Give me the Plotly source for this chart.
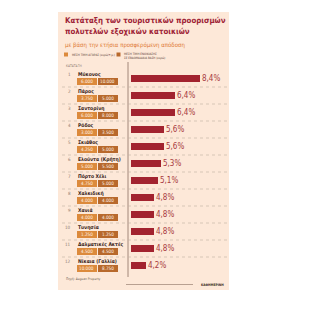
import plotly.graph_objects as go

W, H = 317, 325

ranks = list(range(1, 13))
names = ["Μύκονος", "Πάρος", "Σαντορίνη", "Ρόδος", "Σκιάθος", "Ελούντα (Κρήτη)",
         "Πόρτο Χέλι", "Χαλκιδική", "Χανιά", "Τυνησία", "Δαλματικές Ακτές", "Νίκαια (Γαλλία)"]
buy_price = ["6.000", "3.750", "6.000", "3.000", "4.250", "5.000",
             "4.750", "4.000", "4.000", "1.250", "4.500", "10.000"]
rent_week = ["10.000", "5.000", "8.000", "3.500", "5.000", "5.500",
             "5.000", "4.000", "4.000", "1.250", "4.500", "8.750"]
yield_pct = [8.4, 6.4, 6.4, 5.6, 5.6, 5.3, 5.1, 4.8, 4.8, 4.8, 4.8, 4.2]

title1 = "Κατάταξη των τουριστικών προορισμών"
title2 = "πολυτελών εξοχικών κατοικιών"
subtitle = "με βάση την ετήσια προσφερόμενη απόδοση"
legend_buy = "ΜΕΣΗ ΤΙΜΗ ΑΓΟΡΑΣ (ευρώ/τ.μ.)"
legend_rent = "ΜΕΣΗ ΤΙΜΗ ΕΝΟΙΚΙΑΣΗΣ<br>ΣΕ ΕΒΔΟΜΑΔΙΑΙΑ ΒΑΣΗ (ευρώ)"
bar_label = "ΜΕΣΗ ΜΙΚΤΗ ΑΠΟΔΟΣΗ"
rank_label = "ΚΑΤΑΤΑΞΗ"
source = "Πηγή: Aegean Property"
credit = "ΚΑΘΗΜΕΡΙΝΗ"

FONT = "DejaVu Sans Condensed, Roboto, sans-serif"
PEACH = "#fde8d8"
RED = "#a2232f"
TITLE_RED = "#9e2236"
ORANGE = "#dc8a3c"
BROWN = "#b8692c"
SUB = "#e07a36"

def px(x):
    return x / W

def py(y):
    return 1 - y / H

box_off = 0.2
name_off = -0.25

fig = go.Figure()

fig.add_trace(go.Bar(
    y=ranks, x=yield_pct, orientation="h", xaxis="x", yaxis="y",
    marker=dict(color=RED, line=dict(width=0)), width=0.42,
    text=[bar_label] + [""] * (len(ranks) - 1), textposition="inside",
    insidetextanchor="start", textfont=dict(color="white", size=3.6, family=FONT),
    showlegend=False, hoverinfo="skip", cliponaxis=False,
))

fig.add_trace(go.Bar(
    y=[r + box_off for r in ranks], x=[0.96] * len(ranks), base=[0] * len(ranks),
    orientation="h", xaxis="x2", yaxis="y",
    marker=dict(color=ORANGE, line=dict(width=0)), width=0.42,
    showlegend=False, hoverinfo="skip",
))
fig.add_trace(go.Bar(
    y=[r + box_off for r in ranks], x=[1] * len(ranks), base=[1] * len(ranks),
    orientation="h", xaxis="x2", yaxis="y",
    marker=dict(color=BROWN, line=dict(width=0)), width=0.42,
    showlegend=False, hoverinfo="skip",
))

ann = []
for r, n, b, rw, v in zip(ranks, names, buy_price, rent_week, yield_pct):
    ann.append(dict(x=px(73), y=r + name_off, xref="paper", yref="y", text=str(r),
                    xanchor="right", yanchor="middle", showarrow=False,
                    font=dict(size=4.5, color="#8c7b70", family=FONT)))
    ann.append(dict(x=px(76), y=r + name_off, xref="paper", yref="y", text="<b>" + n + "</b>",
                    xanchor="left", yanchor="middle", showarrow=False,
                    font=dict(size=5, color="#3a2418", family=FONT)))
    ann.append(dict(x=0.48, y=r + box_off, xref="x2", yref="y", text=b,
                    xanchor="center", yanchor="middle", showarrow=False,
                    font=dict(size=4.6, color="#fff3e6", family=FONT)))
    ann.append(dict(x=1.5, y=r + box_off, xref="x2", yref="y", text=rw,
                    xanchor="center", yanchor="middle", showarrow=False,
                    font=dict(size=4.6, color="#fff3e6", family=FONT)))
    ann.append(dict(x=v, y=r, xref="x", yref="y", text=f"{v:.1f}%".replace(".", ","),
                    xanchor="left", yanchor="middle", xshift=0, showarrow=False,
                    font=dict(size=8, color="#a83a40", family=FONT)))

ann += [
    dict(x=px(63), y=py(20.5), xref="paper", yref="paper", text="<b>" + title1 + "</b>",
         xanchor="left", yanchor="middle", showarrow=False,
         font=dict(size=7.8, color=TITLE_RED, family=FONT)),
    dict(x=px(63), y=py(31), xref="paper", yref="paper", text="<b>" + title2 + "</b>",
         xanchor="left", yanchor="middle", showarrow=False,
         font=dict(size=7.8, color=TITLE_RED, family=FONT)),
    dict(x=px(63), y=py(44.5), xref="paper", yref="paper", text=subtitle,
         xanchor="left", yanchor="middle", showarrow=False,
         font=dict(size=6, color=SUB, family=FONT)),
    dict(x=px(70), y=py(54.5), xref="paper", yref="paper", text=legend_buy,
         xanchor="left", yanchor="middle", showarrow=False,
         font=dict(size=3.0, color="#5a4036", family=FONT)),
    dict(x=px(122), y=py(55.5), xref="paper", yref="paper", text=legend_rent,
         xanchor="left", yanchor="middle", showarrow=False, align="left",
         font=dict(size=3.0, color="#5a4036", family=FONT)),
    dict(x=px(64), y=py(66), xref="paper", yref="paper", text=rank_label,
         xanchor="left", yanchor="middle", showarrow=False,
         font=dict(size=3.3, color="#8c7b70", family=FONT)),
    dict(x=px(64), y=py(279), xref="paper", yref="paper", text=source,
         xanchor="left", yanchor="middle", showarrow=False,
         font=dict(size=3.3, color="#6a5a50", family=FONT)),
    dict(x=px(226), y=py(284.5), xref="paper", yref="paper", text="<b>" + credit + "</b>",
         xanchor="right", yanchor="middle", showarrow=False,
         font=dict(size=3.3, color="#3a2a22", family=FONT)),
]

shapes = [
    dict(type="rect", xref="paper", yref="paper", x0=px(58), x1=px(229), y0=py(290), y1=py(12),
         fillcolor=PEACH, line=dict(width=0), layer="below"),
    dict(type="rect", xref="paper", yref="paper", x0=px(64), x1=px(68), y0=py(56.5), y1=py(52.5),
         fillcolor=ORANGE, line=dict(width=0)),
    dict(type="rect", xref="paper", yref="paper", x0=px(116.5), x1=px(120.5), y0=py(56.5), y1=py(52.5),
         fillcolor=BROWN, line=dict(width=0)),
    dict(type="line", xref="paper", yref="paper", x0=px(128), x1=px(128), y0=py(62), y1=py(277),
         line=dict(color="#8a6f62", width=0.8)),
    dict(type="line", xref="paper", yref="paper", x0=px(126), x1=px(193), y0=py(284.5), y1=py(284.5),
         line=dict(color="#8a6f62", width=0.6)),
]
for r in ranks[:-1]:
    shapes.append(dict(type="line", xref="paper", yref="y", x0=px(62), x1=px(227),
                       y0=r + 0.5, y1=r + 0.5,
                       line=dict(color="#bfaea2", width=0.6, dash="dot")))

y_top = 1 - 78.5 / 17
y_bot = 1 + (H - 78.5) / 17

fig.update_layout(
    width=W, height=H,
    margin=dict(l=0, r=0, t=0, b=0),
    paper_bgcolor="white", plot_bgcolor="rgba(0,0,0,0)",
    barmode="overlay", bargap=0,
    font=dict(family=FONT),
    xaxis=dict(domain=[px(131), px(230)], range=[3, 3 + 99 / 12.857],
               visible=False, fixedrange=True),
    xaxis2=dict(domain=[px(77), px(118)], range=[0, 2], anchor="y",
                visible=False, fixedrange=True),
    yaxis=dict(range=[y_bot, y_top], visible=False, fixedrange=True),
    annotations=ann, shapes=shapes,
    showlegend=False,
)

fig.write_html("out.html")
